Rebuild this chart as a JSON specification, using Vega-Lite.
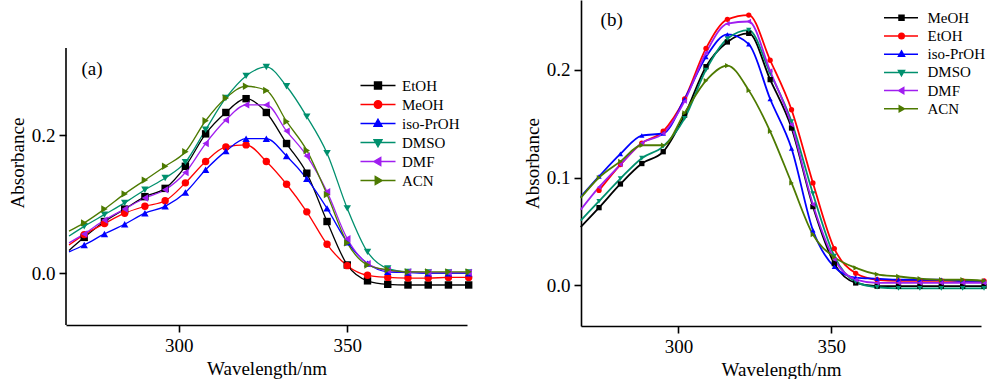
{
"$schema": "https://vega.github.io/schema/vega-lite/v6.json",
"padding": {"left": 8, "top": 0, "right": 0, "bottom": 0},
"spacing": 50,
"datasets": {
"a": [
{"s":"EtOH","wl":267.5,"A":0.033},{"s":"EtOH","wl":272,"A":0.052},{"s":"EtOH","wl":278,"A":0.075},{"s":"EtOH","wl":284,"A":0.093},{"s":"EtOH","wl":290,"A":0.111},{"s":"EtOH","wl":296,"A":0.123},{"s":"EtOH","wl":302,"A":0.155},{"s":"EtOH","wl":308,"A":0.202},{"s":"EtOH","wl":314,"A":0.233},{"s":"EtOH","wl":320,"A":0.253},{"s":"EtOH","wl":326,"A":0.233},{"s":"EtOH","wl":332,"A":0.188},{"s":"EtOH","wl":338,"A":0.145},{"s":"EtOH","wl":344,"A":0.075},{"s":"EtOH","wl":350,"A":0.012},{"s":"EtOH","wl":356,"A":-0.011},{"s":"EtOH","wl":362,"A":-0.016},{"s":"EtOH","wl":368,"A":-0.017},{"s":"EtOH","wl":374,"A":-0.017},{"s":"EtOH","wl":380,"A":-0.017},{"s":"EtOH","wl":386,"A":-0.017},
{"s":"MeOH","wl":267.5,"A":0.041},{"s":"MeOH","wl":272,"A":0.056},{"s":"MeOH","wl":278,"A":0.072},{"s":"MeOH","wl":284,"A":0.087},{"s":"MeOH","wl":290,"A":0.097},{"s":"MeOH","wl":296,"A":0.105},{"s":"MeOH","wl":302,"A":0.131},{"s":"MeOH","wl":308,"A":0.162},{"s":"MeOH","wl":314,"A":0.183},{"s":"MeOH","wl":320,"A":0.186},{"s":"MeOH","wl":326,"A":0.162},{"s":"MeOH","wl":332,"A":0.129},{"s":"MeOH","wl":338,"A":0.089},{"s":"MeOH","wl":344,"A":0.042},{"s":"MeOH","wl":350,"A":0.011},{"s":"MeOH","wl":356,"A":-0.003},{"s":"MeOH","wl":362,"A":-0.006},{"s":"MeOH","wl":368,"A":-0.007},{"s":"MeOH","wl":374,"A":-0.007},{"s":"MeOH","wl":380,"A":-0.006},{"s":"MeOH","wl":386,"A":-0.006},
{"s":"iso-PrOH","wl":267.5,"A":0.031},{"s":"iso-PrOH","wl":272,"A":0.041},{"s":"iso-PrOH","wl":278,"A":0.057},{"s":"iso-PrOH","wl":284,"A":0.071},{"s":"iso-PrOH","wl":290,"A":0.087},{"s":"iso-PrOH","wl":296,"A":0.097},{"s":"iso-PrOH","wl":302,"A":0.117},{"s":"iso-PrOH","wl":308,"A":0.150},{"s":"iso-PrOH","wl":314,"A":0.177},{"s":"iso-PrOH","wl":320,"A":0.195},{"s":"iso-PrOH","wl":326,"A":0.195},{"s":"iso-PrOH","wl":332,"A":0.170},{"s":"iso-PrOH","wl":338,"A":0.137},{"s":"iso-PrOH","wl":344,"A":0.094},{"s":"iso-PrOH","wl":350,"A":0.045},{"s":"iso-PrOH","wl":356,"A":0.014},{"s":"iso-PrOH","wl":362,"A":0.002},{"s":"iso-PrOH","wl":368,"A":0.001},{"s":"iso-PrOH","wl":374,"A":0.0},{"s":"iso-PrOH","wl":380,"A":0.0},{"s":"iso-PrOH","wl":386,"A":0.0},
{"s":"DMSO","wl":267.5,"A":0.054},{"s":"DMSO","wl":272,"A":0.068},{"s":"DMSO","wl":278,"A":0.085},{"s":"DMSO","wl":284,"A":0.102},{"s":"DMSO","wl":290,"A":0.121},{"s":"DMSO","wl":296,"A":0.138},{"s":"DMSO","wl":302,"A":0.161},{"s":"DMSO","wl":308,"A":0.208},{"s":"DMSO","wl":314,"A":0.254},{"s":"DMSO","wl":320,"A":0.286},{"s":"DMSO","wl":326,"A":0.299},{"s":"DMSO","wl":332,"A":0.271},{"s":"DMSO","wl":338,"A":0.227},{"s":"DMSO","wl":344,"A":0.174},{"s":"DMSO","wl":350,"A":0.094},{"s":"DMSO","wl":356,"A":0.031},{"s":"DMSO","wl":362,"A":0.007},{"s":"DMSO","wl":368,"A":0.002},{"s":"DMSO","wl":374,"A":0.001},{"s":"DMSO","wl":380,"A":0.001},{"s":"DMSO","wl":386,"A":0.001},
{"s":"DMF","wl":267.5,"A":0.044},{"s":"DMF","wl":272,"A":0.057},{"s":"DMF","wl":278,"A":0.077},{"s":"DMF","wl":284,"A":0.093},{"s":"DMF","wl":290,"A":0.109},{"s":"DMF","wl":296,"A":0.121},{"s":"DMF","wl":302,"A":0.146},{"s":"DMF","wl":308,"A":0.188},{"s":"DMF","wl":314,"A":0.222},{"s":"DMF","wl":320,"A":0.244},{"s":"DMF","wl":326,"A":0.244},{"s":"DMF","wl":332,"A":0.206},{"s":"DMF","wl":338,"A":0.170},{"s":"DMF","wl":344,"A":0.118},{"s":"DMF","wl":350,"A":0.050},{"s":"DMF","wl":356,"A":0.014},{"s":"DMF","wl":362,"A":0.004},{"s":"DMF","wl":368,"A":0.002},{"s":"DMF","wl":374,"A":0.001},{"s":"DMF","wl":380,"A":0.001},{"s":"DMF","wl":386,"A":0.001},
{"s":"ACN","wl":267.5,"A":0.061},{"s":"ACN","wl":272,"A":0.073},{"s":"ACN","wl":278,"A":0.093},{"s":"ACN","wl":284,"A":0.115},{"s":"ACN","wl":290,"A":0.135},{"s":"ACN","wl":296,"A":0.155},{"s":"ACN","wl":302,"A":0.176},{"s":"ACN","wl":308,"A":0.221},{"s":"ACN","wl":314,"A":0.254},{"s":"ACN","wl":320,"A":0.271},{"s":"ACN","wl":326,"A":0.265},{"s":"ACN","wl":332,"A":0.220},{"s":"ACN","wl":338,"A":0.178},{"s":"ACN","wl":344,"A":0.114},{"s":"ACN","wl":350,"A":0.044},{"s":"ACN","wl":356,"A":0.012},{"s":"ACN","wl":362,"A":0.005},{"s":"ACN","wl":368,"A":0.002},{"s":"ACN","wl":374,"A":0.002},{"s":"ACN","wl":380,"A":0.002},{"s":"ACN","wl":386,"A":0.002}
],
"b": [
{"s":"MeOH","wl":268,"A":0.054},{"s":"MeOH","wl":274,"A":0.072},{"s":"MeOH","wl":281,"A":0.094},{"s":"MeOH","wl":288,"A":0.113},{"s":"MeOH","wl":295,"A":0.124},{"s":"MeOH","wl":302,"A":0.158},{"s":"MeOH","wl":309,"A":0.203},{"s":"MeOH","wl":316,"A":0.226},{"s":"MeOH","wl":323,"A":0.234},{"s":"MeOH","wl":330,"A":0.191},{"s":"MeOH","wl":337,"A":0.146},{"s":"MeOH","wl":344,"A":0.073},{"s":"MeOH","wl":351,"A":0.020},{"s":"MeOH","wl":358,"A":0.002},{"s":"MeOH","wl":365,"A":-0.001},{"s":"MeOH","wl":372,"A":-0.001},{"s":"MeOH","wl":379,"A":-0.001},{"s":"MeOH","wl":386,"A":-0.001},{"s":"MeOH","wl":393,"A":-0.001},{"s":"MeOH","wl":400,"A":-0.001},
{"s":"EtOH","wl":274,"A":0.088},{"s":"EtOH","wl":281,"A":0.112},{"s":"EtOH","wl":288,"A":0.132},{"s":"EtOH","wl":295,"A":0.143},{"s":"EtOH","wl":302,"A":0.173},{"s":"EtOH","wl":309,"A":0.220},{"s":"EtOH","wl":316,"A":0.247},{"s":"EtOH","wl":323,"A":0.251},{"s":"EtOH","wl":330,"A":0.209},{"s":"EtOH","wl":337,"A":0.163},{"s":"EtOH","wl":344,"A":0.095},{"s":"EtOH","wl":351,"A":0.034},{"s":"EtOH","wl":358,"A":0.011},{"s":"EtOH","wl":365,"A":0.005},{"s":"EtOH","wl":372,"A":0.004},{"s":"EtOH","wl":379,"A":0.004},{"s":"EtOH","wl":386,"A":0.004},{"s":"EtOH","wl":393,"A":0.004},{"s":"EtOH","wl":400,"A":0.004},
{"s":"iso-PrOH","wl":268,"A":0.082},{"s":"iso-PrOH","wl":274,"A":0.101},{"s":"iso-PrOH","wl":281,"A":0.122},{"s":"iso-PrOH","wl":288,"A":0.139},{"s":"iso-PrOH","wl":295,"A":0.141},{"s":"iso-PrOH","wl":302,"A":0.173},{"s":"iso-PrOH","wl":309,"A":0.212},{"s":"iso-PrOH","wl":316,"A":0.233},{"s":"iso-PrOH","wl":323,"A":0.224},{"s":"iso-PrOH","wl":330,"A":0.173},{"s":"iso-PrOH","wl":337,"A":0.127},{"s":"iso-PrOH","wl":344,"A":0.051},{"s":"iso-PrOH","wl":351,"A":0.017},{"s":"iso-PrOH","wl":358,"A":0.007},{"s":"iso-PrOH","wl":365,"A":0.006},{"s":"iso-PrOH","wl":372,"A":0.005},{"s":"iso-PrOH","wl":379,"A":0.005},{"s":"iso-PrOH","wl":386,"A":0.005},{"s":"iso-PrOH","wl":393,"A":0.004},{"s":"iso-PrOH","wl":400,"A":0.004},
{"s":"DMSO","wl":268,"A":0.060},{"s":"DMSO","wl":274,"A":0.078},{"s":"DMSO","wl":281,"A":0.099},{"s":"DMSO","wl":288,"A":0.118},{"s":"DMSO","wl":295,"A":0.129},{"s":"DMSO","wl":302,"A":0.155},{"s":"DMSO","wl":309,"A":0.200},{"s":"DMSO","wl":316,"A":0.229},{"s":"DMSO","wl":323,"A":0.237},{"s":"DMSO","wl":330,"A":0.197},{"s":"DMSO","wl":337,"A":0.152},{"s":"DMSO","wl":344,"A":0.085},{"s":"DMSO","wl":351,"A":0.027},{"s":"DMSO","wl":358,"A":0.003},{"s":"DMSO","wl":365,"A":-0.002},{"s":"DMSO","wl":372,"A":-0.003},{"s":"DMSO","wl":379,"A":-0.003},{"s":"DMSO","wl":386,"A":-0.003},{"s":"DMSO","wl":393,"A":-0.003},{"s":"DMSO","wl":400,"A":-0.003},
{"s":"DMF","wl":268,"A":0.070},{"s":"DMF","wl":274,"A":0.091},{"s":"DMF","wl":281,"A":0.112},{"s":"DMF","wl":288,"A":0.132},{"s":"DMF","wl":295,"A":0.141},{"s":"DMF","wl":302,"A":0.171},{"s":"DMF","wl":309,"A":0.216},{"s":"DMF","wl":316,"A":0.243},{"s":"DMF","wl":323,"A":0.245},{"s":"DMF","wl":330,"A":0.199},{"s":"DMF","wl":337,"A":0.149},{"s":"DMF","wl":344,"A":0.075},{"s":"DMF","wl":351,"A":0.024},{"s":"DMF","wl":358,"A":0.005},{"s":"DMF","wl":365,"A":0.002},{"s":"DMF","wl":372,"A":0.002},{"s":"DMF","wl":379,"A":0.002},{"s":"DMF","wl":386,"A":0.002},{"s":"DMF","wl":393,"A":0.002},{"s":"DMF","wl":400,"A":0.002},
{"s":"ACN","wl":268,"A":0.081},{"s":"ACN","wl":274,"A":0.100},{"s":"ACN","wl":281,"A":0.115},{"s":"ACN","wl":288,"A":0.130},{"s":"ACN","wl":295,"A":0.130},{"s":"ACN","wl":302,"A":0.160},{"s":"ACN","wl":309,"A":0.190},{"s":"ACN","wl":316,"A":0.204},{"s":"ACN","wl":323,"A":0.181},{"s":"ACN","wl":330,"A":0.143},{"s":"ACN","wl":337,"A":0.095},{"s":"ACN","wl":344,"A":0.047},{"s":"ACN","wl":351,"A":0.026},{"s":"ACN","wl":358,"A":0.016},{"s":"ACN","wl":365,"A":0.010},{"s":"ACN","wl":372,"A":0.008},{"s":"ACN","wl":379,"A":0.006},{"s":"ACN","wl":386,"A":0.005},{"s":"ACN","wl":393,"A":0.005},{"s":"ACN","wl":400,"A":0.004}
]
},
"hconcat": [
{
"width": 401, "height": 325,
"data": {"name": "a"},
"layer": [
{"mark": {"type": "line", "interpolate": "monotone", "strokeWidth": 1.3},
 "encoding": {
  "x": {"field": "wl", "type": "quantitative", "scale": {"domain": [266.6, 385.5], "nice": false, "zero": false}, "axis": {"values": [300, 350], "title": "Wavelength/nm"}},
  "y": {"field": "A", "type": "quantitative", "scale": {"domain": [-0.075, 0.396], "nice": false, "zero": false}, "axis": {"values": [0, 0.2], "format": ".1f", "title": "Absorbance", "domain": false}},
  "color": {"field": "s", "type": "nominal",
   "scale": {"domain": ["EtOH","MeOH","iso-PrOH","DMSO","DMF","ACN"], "range": ["#000000","#FF0000","#0000FF","#00906E","#A01EF0","#4D7A00"]},
   "legend": {"title": null, "orient": "none", "legendX": 293, "legendY": 78, "symbolSize": 100, "labelOffset": 28, "rowPadding": 3, "labelFontSize": 15,
    "encode": {"symbols": {"update": {
     "shape": {"signal": "['M-1.2,0H5.8M1.6,-0.7H3V0.7H1.6Z','M-1.2,0H5.8M1.55,0A0.75,0.75 0 1,0 3.05,0A0.75,0.75 0 1,0 1.55,0Z','M-1.2,0H5.8M2.3,-0.85L3.1,0.55H1.5Z','M-1.2,0H5.8M2.3,0.85L3.1,-0.55H1.5Z','M-1.2,0H5.8M1.45,0L2.85,-0.8V0.8Z','M-1.2,0H5.8M3.15,0L1.75,-0.8V0.8Z'][indexof(['EtOH','MeOH','iso-PrOH','DMSO','DMF','ACN'], datum.value)]"},
     "fill": {"signal": "['#000000','#FF0000','#0000FF','#00906E','#A01EF0','#4D7A00'][indexof(['EtOH','MeOH','iso-PrOH','DMSO','DMF','ACN'], datum.value)]"},
     "stroke": {"signal": "['#000000','#FF0000','#0000FF','#00906E','#A01EF0','#4D7A00'][indexof(['EtOH','MeOH','iso-PrOH','DMSO','DMF','ACN'], datum.value)]"},
     "strokeWidth": {"value": 1.4},
     "opacity": {"value": 1}
    }}}
   }
  }
 }
},
{"transform": [{"filter": "datum.wl >= 270"}],
 "mark": {"type": "point", "filled": true, "size": 55, "opacity": 1},
 "encoding": {
  "x": {"field": "wl", "type": "quantitative"},
  "y": {"field": "A", "type": "quantitative"},
  "fill": {"field": "s", "type": "nominal", "scale": {"domain": ["ACN","DMF","DMSO","iso-PrOH","MeOH","EtOH"], "range": ["#4D7A00","#A01EF0","#00906E","#0000FF","#FF0000","#000000"]}, "legend": null},
  "shape": {"field": "s", "type": "nominal", "scale": {"domain": ["ACN","DMF","DMSO","iso-PrOH","MeOH","EtOH"], "range": ["triangle-right","triangle-left","triangle-down","triangle-up","circle","square"]}, "legend": null}
 }
},
{"data": {"values": [{}]},
 "mark": {"type": "rule", "color": "#000", "strokeWidth": 1.6},
 "encoding": {"x": {"datum": 266.6}, "y": {"datum": -0.075}, "y2": {"datum": 0.3265}}
},
{"data": {"values": [{}]},
 "mark": {"type": "text", "align": "left", "baseline": "middle", "fontSize": 19, "font": "Liberation Serif", "color": "#000"},
 "encoding": {"x": {"datum": 271.2}, "y": {"datum": 0.296}, "text": {"value": "(a)"}}
}
]
},
{
"width": 400, "height": 326,
"data": {"name": "b"},
"resolve": {"scale": {"color": "independent", "fill": "independent", "shape": "independent", "stroke": "independent"}},
"layer": [
{"mark": {"type": "line", "interpolate": "monotone", "strokeWidth": 1.8},
 "encoding": {
  "x": {"field": "wl", "type": "quantitative", "scale": {"domain": [268.1, 399], "nice": false, "zero": false}, "axis": {"values": [300, 350], "title": "Wavelength/nm"}},
  "y": {"field": "A", "type": "quantitative", "scale": {"domain": [-0.038, 0.265], "nice": false, "zero": false}, "axis": {"values": [0, 0.1, 0.2], "format": ".1f", "title": "Absorbance"}},
  "color": {"field": "s", "type": "nominal", "scale": {"domain": ["ACN","DMF","DMSO","iso-PrOH","EtOH","MeOH"], "range": ["#4D7A00","#A01EF0","#00906E","#0000FF","#FF0000","#000000"]}, "legend": null}
 }
},
{"transform": [{"filter": "datum.wl >= 270"}],
 "mark": {"type": "point", "filled": true, "size": 28, "opacity": 1},
 "encoding": {
  "x": {"field": "wl", "type": "quantitative"},
  "y": {"field": "A", "type": "quantitative"},
  "fill": {"field": "s", "type": "nominal", "scale": {"domain": ["ACN","DMF","DMSO","iso-PrOH","EtOH","MeOH"], "range": ["#4D7A00","#A01EF0","#00906E","#0000FF","#FF0000","#000000"]}, "legend": null},
  "shape": {"field": "s", "type": "nominal", "scale": {"domain": ["ACN","DMF","DMSO","iso-PrOH","EtOH","MeOH"], "range": ["triangle-right","triangle-left","triangle-down","triangle-up","circle","square"]}, "legend": null}
 }
},
{"transform": [{"filter": "datum.wl < 0"}],
 "mark": {"type": "point", "filled": true, "size": 100, "opacity": 1, "strokeWidth": 1.8},
 "encoding": {
  "x": {"field": "wl", "type": "quantitative"},
  "y": {"field": "A", "type": "quantitative"},
  "color": {"field": "s", "type": "nominal", "scale": {"domain": ["MeOH","EtOH","iso-PrOH","DMSO","DMF","ACN"], "range": ["#000000","#FF0000","#0000FF","#00906E","#A01EF0","#4D7A00"]},
   "legend": {"title": null, "orient": "none", "legendX": 301.5, "legendY": 10.3, "symbolSize": 100, "labelOffset": 30, "rowPadding": 2.2, "labelFontSize": 15}},
  "stroke": {"field": "s", "type": "nominal", "scale": {"domain": ["MeOH","EtOH","iso-PrOH","DMSO","DMF","ACN"], "range": ["#000000","#FF0000","#0000FF","#00906E","#A01EF0","#4D7A00"]},
   "legend": {"title": null, "orient": "none", "legendX": 301.5, "legendY": 10.3, "symbolSize": 100, "labelOffset": 30, "rowPadding": 2.2, "labelFontSize": 15}},
  "shape": {"field": "s", "type": "nominal", "scale": {"domain": ["MeOH","EtOH","iso-PrOH","DMSO","DMF","ACN"], "range": ["M-1.2,0H5.6M1.8,-0.5H2.8V0.5H1.8Z","M-1.2,0H5.6M1.75,0A0.55,0.55 0 1,0 2.85,0A0.55,0.55 0 1,0 1.75,0Z","M-1.2,0H5.6M2.3,-0.65L2.9,0.4H1.7Z","M-1.2,0H5.6M2.3,0.65L2.9,-0.4H1.7Z","M-1.2,0H5.6M1.7,0L2.75,-0.6V0.6Z","M-1.2,0H5.6M2.9,0L1.85,-0.6V0.6Z"]},
   "legend": {"title": null, "orient": "none", "legendX": 301.5, "legendY": 10.3, "symbolSize": 100, "labelOffset": 30, "rowPadding": 2.2, "labelFontSize": 15}}
 }
},
{"data": {"values": [{}]},
 "mark": {"type": "text", "align": "left", "baseline": "middle", "fontSize": 19, "font": "Liberation Serif", "color": "#000"},
 "encoding": {"x": {"datum": 274.5}, "y": {"datum": 0.246}, "text": {"value": "(b)"}}
}
]
}
],
"resolve": {"scale": {"color": "independent", "fill": "independent", "shape": "independent", "stroke": "independent"}, "legend": {"color": "independent", "fill": "independent", "shape": "independent", "stroke": "independent"}},
"config": {
 "font": "Liberation Serif",
 "view": {"stroke": null},
 "axis": {"domainColor": "#000", "domainWidth": 1.6, "tickColor": "#000", "tickWidth": 1.6, "tickSize": 7, "labelColor": "#000", "labelFontSize": 19, "labelPadding": 4, "titleFontSize": 19, "titleFontWeight": "normal", "titleColor": "#000", "grid": false, "labelFont": "Liberation Serif", "titleFont": "Liberation Serif", "titlePadding": 4},
 "legend": {"labelFontSize": 15, "labelColor": "#000", "labelFont": "Liberation Serif"}
}
}
